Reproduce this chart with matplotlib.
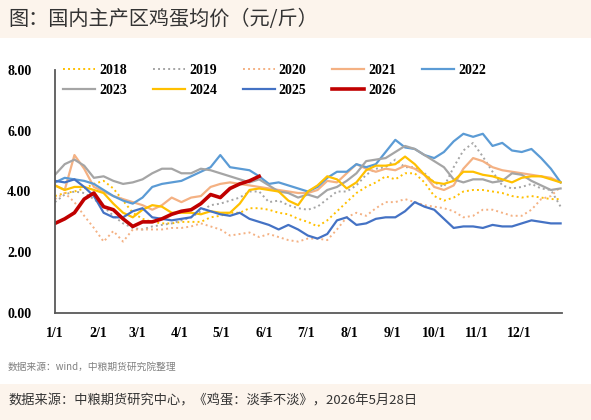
import numpy as np
import matplotlib.pyplot as plt

plt.rcParams['font.family'] = ['Noto Sans CJK SC', 'DejaVu Sans']

# 周度数据：每 7 天一个点，从 1/1 开始
days = np.arange(53) * 7

y2018 = [3.85, 3.95, 4.0, 4.1, 4.25, 4.35, 4.1, 3.7, 3.3, 3.1, 3.0, 2.95, 2.95,
         3.0, 3.0, 3.0, 3.15, 3.2, 3.3, 3.3, 3.45, 3.45, 3.4, 3.3, 3.25, 3.1,
         3.0, 2.85, 3.05, 3.35, 3.65, 3.95, 4.15, 4.3, 4.5, 4.4, 4.6, 4.6, 4.3,
         3.85, 3.7, 3.8, 4.0, 4.05, 4.05, 4.0, 3.95, 3.85, 3.8, 3.85, 3.8, 3.75, 3.75]
y2019 = [3.65, 3.9, 4.0, 3.95, 3.75, 3.5, 3.2, 2.95, 2.8, 2.75, 2.85, 2.9, 2.95,
         3.05, 3.15, 3.35, 3.55, 3.6, 3.7, 3.8, 4.0, 4.0, 3.65, 3.7, 3.55, 3.45,
         3.4, 3.5, 3.75, 4.0, 4.0, 4.2, 4.55, 4.75, 4.8, 5.05, 4.8, 4.8, 4.6,
         4.3, 4.15, 4.8, 5.35, 5.6, 5.15, 4.65, 4.2, 4.1, 4.15, 4.25, 4.1, 4.05, 3.5]
y2020 = [3.75, 3.95, 3.65, 3.2, 2.8, 2.35, 2.7, 2.35, 2.75, 2.75, 2.75, 2.75, 2.8,
         2.8, 2.85, 2.95, 2.85, 2.75, 2.55, 2.6, 2.65, 2.5, 2.6, 2.5, 2.4, 2.35,
         2.45, 2.45, 2.4, 2.75, 3.15, 3.3, 3.2, 3.45, 3.65, 3.65, 3.75, 3.65, 3.55,
         3.5, 3.45, 3.35, 3.15, 3.2, 3.4, 3.4, 3.3, 3.2, 3.2, 3.4, 3.75, 3.85, 4.15]
y2021 = [4.2, 4.05, 5.2, 4.75, 4.15, 4.0, 3.85, 3.75, 3.65, 3.55, 3.4, 3.55, 3.8,
         3.65, 3.8, 3.85, 4.15, 4.25, 4.3, 4.25, 4.2, 4.15, 4.1, 4.05, 4.0, 3.95,
         3.95, 4.05, 4.35, 4.3, 4.6, 4.9, 4.75, 4.65, 4.75, 4.7, 4.85, 4.75, 4.55,
         4.15, 4.05, 4.2, 4.75, 5.1, 5.0, 4.8, 4.7, 4.65, 4.6, 4.55, 4.5, 4.45, 4.3]
y2022 = [4.3, 4.45, 4.4, 4.35, 4.25, 4.05, 3.85, 3.7, 3.6, 3.8, 4.15, 4.25, 4.3,
         4.35, 4.5, 4.65, 4.8, 5.2, 4.8, 4.75, 4.7, 4.5, 4.25, 4.3, 4.2, 4.1,
         4.0, 4.15, 4.45, 4.65, 4.65, 4.9, 4.8, 4.9, 5.3, 5.7, 5.45, 5.4, 5.2,
         5.1, 5.3, 5.65, 5.9, 5.8, 5.9, 5.5, 5.6, 5.35, 5.3, 5.4, 5.1, 4.75, 4.3]
y2023 = [4.55, 4.9, 5.05, 4.85, 4.45, 4.5, 4.35, 4.25, 4.3, 4.4, 4.6, 4.75, 4.75,
         4.6, 4.6, 4.75, 4.7, 4.6, 4.5, 4.4, 4.3, 4.4, 4.2, 4.0, 3.95, 3.8,
         3.9, 3.8, 4.05, 4.15, 4.35, 4.6, 5.0, 5.05, 5.1, 5.3, 5.5, 5.4, 5.2,
         5.0, 4.8, 4.4, 4.3, 4.4, 4.4, 4.3, 4.35, 4.6, 4.55, 4.35, 4.2, 4.05, 4.1]
y2024 = [4.2, 4.05, 4.15, 4.15, 4.05, 3.95, 3.6, 3.3, 3.15, 3.4, 3.55, 3.5, 3.3,
         3.3, 3.3, 3.25, 3.35, 3.3, 3.3, 3.6, 4.05, 4.1, 4.05, 4.0, 3.7, 3.55,
         4.0, 4.2, 4.5, 4.4, 4.1, 4.3, 4.7, 4.85, 4.85, 4.9, 5.15, 4.9, 4.55,
         4.3, 4.25, 4.35, 4.65, 4.65, 4.55, 4.5, 4.4, 4.3, 4.45, 4.5, 4.5, 4.4, 4.3]
y2025 = [4.35, 4.3, 4.4, 4.15, 3.85, 3.3, 3.15, 3.15, 3.35, 3.45, 3.15, 3.1, 3.05,
         3.1, 3.15, 3.45, 3.35, 3.25, 3.2, 3.3, 3.1, 3.0, 2.9, 2.75, 2.9, 2.75,
         2.55, 2.45, 2.6, 3.05, 3.15, 2.9, 2.95, 3.1, 3.15, 3.15, 3.35, 3.65, 3.5,
         3.4, 3.1, 2.8, 2.85, 2.85, 2.8, 2.9, 2.85, 2.85, 2.95, 3.05, 3.0, 2.95, 2.95]
y2026 = [2.95, 3.1, 3.3, 3.75, 3.95, 3.5, 3.4, 3.1, 2.85, 3.0, 3.0, 3.1, 3.25,
         3.35, 3.4, 3.6, 3.9, 3.8, 4.1, 4.25, 4.35, 4.5]

years = ['2018', '2019', '2020', '2021', '2022', '2023', '2024', '2025', '2026']
series = [y2018, y2019, y2020, y2021, y2022, y2023, y2024, y2025, y2026]
colors = ['#FFC000', '#A5A5A5', '#F4B183', '#F4B183', '#5B9BD5',
          '#A5A5A5', '#FFC000', '#4472C4', '#C00000']
dots = (0, (1, 1.6))
styles = [dots, dots, dots, '-', '-', '-', '-', '-', '-']
widths = [1.4, 1.4, 1.4, 1.6, 1.6, 1.6, 1.6, 1.6, 2.6]

tick_days = [0, 31, 59, 90, 120, 151, 181, 212, 243, 273, 304, 334]
tick_labels = ['1/1', '2/1', '3/1', '4/1', '5/1', '6/1', '7/1', '8/1', '9/1',
               '10/1', '11/1', '12/1']

fig = plt.figure(figsize=(5.91, 4.2), dpi=100)
fig.patch.set_facecolor('white')

# 顶部和底部的浅色条
fig.add_artist(plt.Rectangle((0, 1 - 38 / 420), 1, 38 / 420, transform=fig.transFigure,
                             facecolor='#FCF4EC', edgecolor='none', zorder=0))
fig.add_artist(plt.Rectangle((0, 0), 1, 36 / 420, transform=fig.transFigure,
                             facecolor='#FCF4EC', edgecolor='none', zorder=0))

ax = fig.add_axes([55 / 591, 107 / 420, 507 / 591, 243 / 420])
lines = {}
for name, vals, c, ls, lw in zip(years, series, colors, styles, widths):
    ln, = ax.plot(days[:len(vals)], vals, color=c, linestyle=ls, linewidth=lw, label=name)
    lines[name] = ln

ax.set_xlim(0, 365)
ax.set_ylim(0, 8)
ax.set_yticks([0, 2, 4, 6, 8])
ax.set_yticklabels(['0.00', '2.00', '4.00', '6.00', '8.00'],
                   family='Liberation Serif', fontweight='bold', fontsize=10)
ax.set_xticks(tick_days)
ax.set_xticklabels(tick_labels, family='Liberation Serif', fontweight='bold', fontsize=10)
ax.tick_params(length=0, pad=10, axis='x')
ax.tick_params(length=0, pad=17, axis='y')
for s in ['top', 'right']:
    ax.spines[s].set_visible(False)
for s in ['left', 'bottom']:
    ax.spines[s].set_color('#595959')
    ax.spines[s].set_linewidth(1.3)

# 图例按行排列：第一行 2018-2022，第二行 2023-2026
order = ['2018', '2023', '2019', '2024', '2020', '2025', '2021', '2026', '2022']
ax.legend([lines[k] for k in order], order, ncol=5, loc='upper left',
          bbox_to_anchor=(-0.008, 1.075), frameon=False,
          handlelength=2.3, columnspacing=1.85, handletextpad=0.3,
          labelspacing=0.45, prop={'family': 'Liberation Serif', 'weight': 'bold', 'size': 10})

fig.text(8 / 591, 1 - 20 / 420, '图：国内主产区鸡蛋均价（元/斤）', fontsize=14.5,
         va='center', ha='left', color='#333333')
fig.text(8 / 591, 1 - 367 / 420, '数据来源：wind，中粮期货研究院整理', fontsize=7,
         va='center', ha='left', color='#808080', style='italic')
fig.text(8 / 591, 1 - 401 / 420, '数据来源：中粮期货研究中心，《鸡蛋：淡季不淡》，2026年5月28日',
         fontsize=9.5, va='center', ha='left', color='#333333')

fig.savefig('out.png', dpi=100)
